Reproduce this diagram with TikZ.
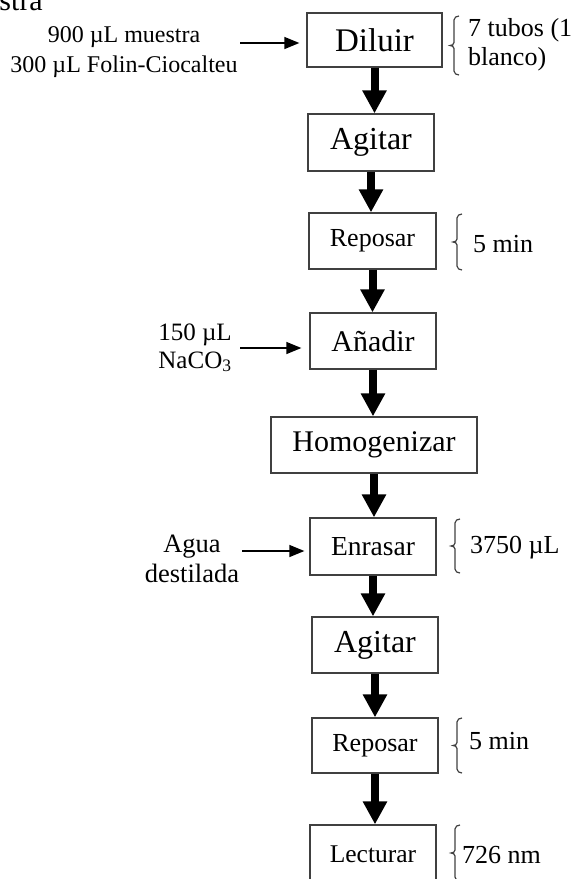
\documentclass[tikz,border=0pt]{standalone}
\usepackage{fontspec}
\setmainfont{Liberation Serif}
\usetikzlibrary{arrows.meta}
\definecolor{boxgray}{RGB}{64,64,64}
% side brace: #1 = x of the stem, #2 = top, #3 = bottom
\newcommand\sidebrace[3]{%
  \draw[bracestyle] (#1+5,#2) to[out=180,in=90] (#1,#2+4)
    -- (#1,{(#2+#3)/2-3}) to[out=-90,in=0] (#1-4,{(#2+#3)/2})
    to[out=0,in=90] (#1,{(#2+#3)/2+3})
    -- (#1,#3-4) to[out=-90,in=180] (#1+5,#3);}
\newcommand\fs[1]{\fontsize{#1}{#1}\selectfont}
\begin{document}
\begin{tikzpicture}[x=1pt,y=-1pt,
  stepbox/.style={draw=boxgray, line width=1.3pt, inner sep=0pt, font=\fs{30}},
  flow/.style={line width=8pt, -{Triangle[length=23pt,width=23pt]}},
  feed/.style={line width=1.3pt, -{Triangle[length=15pt,width=12pt]}},
  lbl/.style={inner sep=0pt, font=\fs{26}},
  inlbl/.style={inner sep=0pt, font=\fs{24}},
  bracestyle/.style={draw=boxgray, line width=1.2pt},
]
\useasboundingbox (0,0) rectangle (577,879);
\clip (0,0) rectangle (577,879);

% process steps
\node[stepbox, font=\fs{33}, minimum width=135pt, minimum height=54pt] (diluir) at (374.5,40) {Diluir};
\node[stepbox, font=\fs{32}, minimum width=126pt, minimum height=57pt] (agitar1) at (371,142.5) {Agitar};
\node[stepbox, font=\fs{26}, minimum width=127pt, minimum height=56pt] (reposar1) at (372.5,241) {Reposar};
\node[stepbox, minimum width=126pt, minimum height=56pt] (anadir) at (373,341) {Añadir};
\node[stepbox, minimum width=206pt, minimum height=56pt] (homog) at (374,445) {Homogenizar};
\node[stepbox, font=\fs{27.5}, minimum width=126pt, minimum height=57pt] (enrasar) at (373,546.5) {Enrasar};
\node[stepbox, font=\fs{32}, minimum width=126pt, minimum height=56pt] (agitar2) at (375,645) {Agitar};
\node[stepbox, font=\fs{26}, minimum width=126pt, minimum height=55pt] (reposar2) at (375,745.5) {Reposar};
\node[stepbox, font=\fs{25.5}, minimum width=126pt, minimum height=58pt] (lectura) at (373,854) {Lecturar};

% main flow
\draw[flow] (diluir.south) -- (diluir.south |- agitar1.north);
\draw[flow] (agitar1.south) -- (agitar1.south |- reposar1.north);
\draw[flow] (reposar1.south) -- (reposar1.south |- anadir.north);
\draw[flow] (anadir.south) -- (anadir.south |- homog.north);
\draw[flow] (homog.south) -- (homog.south |- enrasar.north);
\draw[flow] (enrasar.south) -- (enrasar.south |- agitar2.north);
\draw[flow] (agitar2.south) -- (agitar2.south |- reposar2.north);
\draw[flow] (reposar2.south) -- (reposar2.south |- lectura.north);

% inputs on the left
\node[anchor=base east, font=\fs{30}, inner sep=0pt] (sample) at (43,10) {muestra};
\node[inlbl, anchor=base] (m1) at (124,42) {900 µL muestra};
\node[inlbl, anchor=base] (m2) at (124,72) {300 µL Folin-Ciocalteu};
\coordinate (in1) at (240,43);
\draw[feed, shorten >=7pt] (in1) -- (in1 -| diluir.west);

\node[lbl, font=\fs{25}, anchor=base] (c1) at (195,340) {150 µL};
\node[lbl, font=\fs{25}, anchor=base] (c2) at (195,368) {NaCO\textsubscript{3}};
\coordinate (in2) at (240,348);
\draw[feed, shorten >=8pt] (in2) -- (in2 -| anadir.west);

\node[lbl, font=\fs{26.5}, anchor=base] (w1) at (192,552) {Agua};
\node[lbl, font=\fs{26.5}, anchor=base] (w2) at (192,582) {destilada};
\coordinate (in3) at (242,551);
\draw[feed, shorten >=5pt] (in3) -- (in3 -| enrasar.west);

% notes on the right
\sidebrace{454}{16}{75}
\node[lbl, anchor=base west] (t1) at (468,36) {7 tubos (1};
\node[lbl, anchor=base west] (t2) at (468,65) {blanco)};

\sidebrace{457}{214}{270}
\node[lbl, anchor=base west] (r1) at (473,252) {5 min};

\sidebrace{455}{519}{573}
\node[lbl, anchor=base west] (e1) at (470,553) {3750 µL};

\sidebrace{457}{718}{773}
\node[lbl, anchor=base west] (r2) at (469,749) {5 min};

\sidebrace{455}{825}{881}
\node[lbl, anchor=base west] (l1) at (462,863) {726 nm};
\end{tikzpicture}
\end{document}
